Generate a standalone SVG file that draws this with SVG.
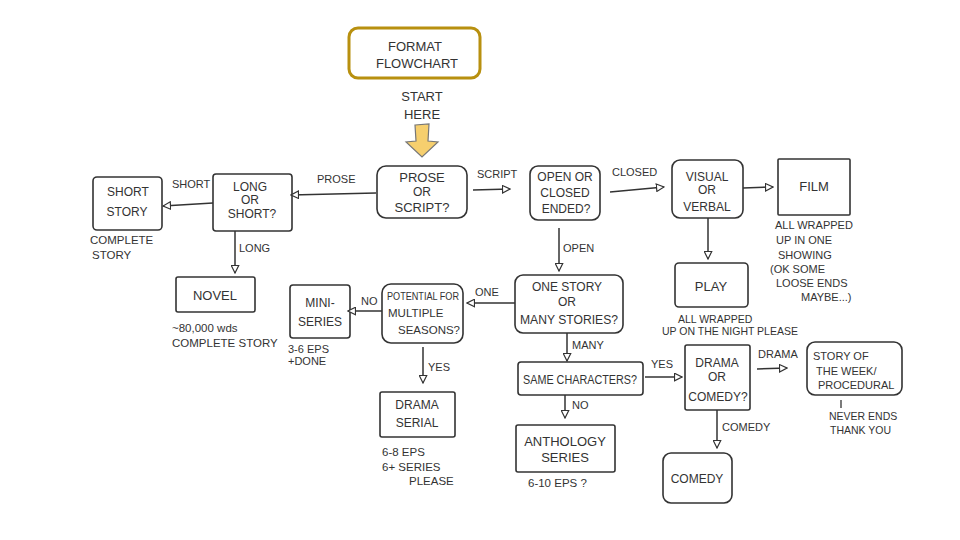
<svg xmlns="http://www.w3.org/2000/svg" width="960" height="540" viewBox="0 0 960 540">
<defs>
<style>
.bg{fill:#ffffff}
.box{fill:#ffffff;stroke:#333;stroke-width:1.6}
.t{font-family:"Liberation Sans",Arial,sans-serif;font-size:13px;fill:#333;text-anchor:middle}
.s{font-size:12px}
.l{font-family:"Liberation Sans",Arial,sans-serif;font-size:11.5px;fill:#333;text-anchor:start}
.lbl{font-family:"Liberation Sans",Arial,sans-serif;font-size:11px;fill:#333;text-anchor:start}
.c{fill:none;stroke:#333;stroke-width:1.5;marker-end:url(#ah)}
</style>
<marker id="ah" viewBox="0 0 12 12" refX="11" refY="6" markerWidth="9" markerHeight="9" markerUnits="userSpaceOnUse" orient="auto">
<path d="M1,1 L11,6 L1,11 Z" fill="#fff" stroke="#333" stroke-width="1.6"/>
</marker>
</defs>
<rect class="bg" x="0" y="0" width="960" height="540"/>

<g id="title">
<rect x="349" y="28" width="131" height="50" rx="9" fill="#fff" stroke="#B8900F" stroke-width="3"/>
<text class="t" x="415" y="51">FORMAT</text>
<text class="t" x="417" y="68">FLOWCHART</text>
</g>
<g id="start">
<text class="t" x="422" y="101">START</text>
<text class="t" x="422" y="119">HERE</text>
<path d="M415,125 L429,124 L428,141 L438,142 L422,157 L406,142 L416,141 Z" fill="#F6CF6E" stroke="#777" stroke-width="1.2"/>
</g>

<g id="prose-script">
<rect class="box" x="377" y="166" width="90" height="52" rx="9"/>
<text class="t" x="422" y="182">PROSE</text>
<text class="t s" x="422" y="196">OR</text>
<text class="t" x="422" y="212">SCRIPT?</text>
</g>
<g id="long-short">
<rect class="box" x="213" y="174" width="79" height="57" rx="3"/>
<text class="t s" x="250" y="191">LONG</text>
<text class="t s" x="250" y="204">OR</text>
<text class="t s" x="252" y="218">SHORT?</text>
</g>
<g id="short-story">
<rect class="box" x="93" y="177" width="69" height="53" rx="4"/>
<text class="t s" x="128" y="196">SHORT</text>
<text class="t s" x="127" y="216">STORY</text>
<text class="l" x="90" y="244">COMPLETE</text>
<text class="l" x="92" y="259">STORY</text>
</g>
<g id="novel">
<rect class="box" x="176" y="277" width="79" height="35" rx="2"/>
<text class="t" x="215" y="300">NOVEL</text>
<text class="l" x="172" y="332">~80,000 wds</text>
<text class="l" x="172" y="347">COMPLETE STORY</text>
</g>
<g id="open-closed">
<rect class="box" x="530" y="166" width="70" height="54" rx="8"/>
<text class="t s" x="565" y="181">OPEN OR</text>
<text class="t s" x="565" y="197">CLOSED</text>
<text class="t s" x="566" y="213">ENDED?</text>
</g>
<g id="visual-verbal">
<rect class="box" x="672" y="160" width="71" height="58" rx="8"/>
<text class="t s" x="707" y="181">VISUAL</text>
<text class="t s" x="707" y="194">OR</text>
<text class="t s" x="707" y="211">VERBAL</text>
</g>
<g id="film">
<rect class="box" x="778" y="159" width="72" height="56" rx="1"/>
<text class="t" x="814" y="191">FILM</text>
<text class="l" x="775" y="229" style="font-size:11px">ALL WRAPPED</text>
<text class="l" x="776" y="244" style="font-size:11px">UP IN ONE</text>
<text class="l" x="778" y="259" style="font-size:11px">SHOWING</text>
<text class="l" x="770" y="273" style="font-size:11px">(OK SOME</text>
<text class="l" x="776" y="287" style="font-size:11px">LOOSE ENDS</text>
<text class="l" x="801" y="301" style="font-size:11px">MAYBE...)</text>
</g>
<g id="play">
<rect class="box" x="675" y="263" width="73" height="44" rx="4"/>
<text class="t" x="711" y="291">PLAY</text>
<text class="l" x="678" y="323" style="font-size:10.5px">ALL WRAPPED</text>
<text class="l" x="662" y="335" style="font-size:10.5px">UP ON THE NIGHT PLEASE</text>
</g>
<g id="one-many">
<rect class="box" x="515" y="275" width="108" height="58" rx="8"/>
<text class="t s" x="567" y="291">ONE STORY</text>
<text class="t s" x="567" y="306">OR</text>
<text class="t s" x="569" y="324" textLength="98" lengthAdjust="spacingAndGlyphs">MANY STORIES?</text>
</g>
<g id="potential">
<rect class="box" x="382" y="284" width="81" height="59" rx="9"/>
<text class="l" x="387" y="300" textLength="72" lengthAdjust="spacingAndGlyphs">POTENTIAL FOR</text>
<text class="l" x="388" y="317">MULTIPLE</text>
<text class="l" x="398" y="334">SEASONS?</text>
</g>
<g id="mini-series">
<rect class="box" x="290" y="285" width="60" height="53" rx="3"/>
<text class="t s" x="320" y="307">MINI-</text>
<text class="t s" x="320" y="326">SERIES</text>
<text class="l" x="288" y="353" style="font-size:11px">3-6 EPS</text>
<text class="l" x="288" y="365" style="font-size:11px">+DONE</text>
</g>
<g id="drama-serial">
<rect class="box" x="380" y="392" width="75" height="45" rx="2"/>
<text class="t s" x="417" y="409">DRAMA</text>
<text class="t s" x="417" y="427">SERIAL</text>
<text class="l" x="382" y="456">6-8 EPS</text>
<text class="l" x="382" y="471">6+ SERIES</text>
<text class="l" x="409" y="485">PLEASE</text>
</g>
<g id="same-characters">
<rect class="box" x="518" y="362" width="125" height="33" rx="3"/>
<text class="t s" x="580" y="384" textLength="114" lengthAdjust="spacingAndGlyphs">SAME CHARACTERS?</text>
</g>
<g id="anthology">
<rect class="box" x="516" y="425" width="99" height="47" rx="2"/>
<text class="t" x="565" y="446">ANTHOLOGY</text>
<text class="t" x="565" y="462">SERIES</text>
<text class="l" x="528" y="487">6-10 EPS ?</text>
</g>
<g id="drama-comedy">
<rect class="box" x="685" y="345" width="65" height="65" rx="2"/>
<text class="t s" x="717" y="367">DRAMA</text>
<text class="t s" x="717" y="381">OR</text>
<text class="t s" x="718" y="401">COMEDY?</text>
</g>
<g id="story-week">
<rect class="box" x="807" y="342" width="95" height="53" rx="8"/>
<text class="l" x="813" y="360" style="font-size:11px">STORY OF</text>
<text class="l" x="816" y="375" style="font-size:11px">THE WEEK/</text>
<text class="l" x="818" y="389" style="font-size:11px">PROCEDURAL</text>
<line x1="841" y1="400" x2="841" y2="408" stroke="#333" stroke-width="1.3"/>
<text class="l" x="829" y="420" style="font-size:10.5px">NEVER ENDS</text>
<text class="l" x="830" y="434" style="font-size:10.5px">THANK YOU</text>
</g>
<g id="comedy">
<rect class="box" x="663" y="453" width="69" height="50" rx="8"/>
<text class="t s" x="697" y="483">COMEDY</text>
</g>

<g id="connectors">
<path class="c" d="M376,193 L291,195"/>
<text class="lbl" x="317" y="183">PROSE</text>
<path class="c" d="M213,203 L163,206"/>
<text class="lbl" x="172" y="188">SHORT</text>
<path class="c" d="M235,231 L235,273"/>
<text class="lbl" x="239" y="252">LONG</text>
<path class="c" d="M473,190 L510,189"/>
<text class="lbl" x="477" y="178">SCRIPT</text>
<path class="c" d="M610,192 L664,187"/>
<text class="lbl" x="612" y="176">CLOSED</text>
<path class="c" d="M743,188 L773,187"/>
<path class="c" d="M708,218 L708,259"/>
<path class="c" d="M559,228 L559,271"/>
<text class="lbl" x="563" y="252">OPEN</text>
<path class="c" d="M515,303 L467,303"/>
<text class="lbl" x="475" y="296">ONE</text>
<path class="c" d="M382,311 L348,311"/>
<text class="lbl" x="361" y="305">NO</text>
<path class="c" d="M423,347 L423,383"/>
<text class="lbl" x="428" y="371">YES</text>
<path class="c" d="M567,333 L567,361"/>
<text class="lbl" x="572" y="349">MANY</text>
<path class="c" d="M565,395 L565,418"/>
<text class="lbl" x="572" y="409">NO</text>
<path class="c" d="M645,377 L682,377"/>
<text class="lbl" x="651" y="368">YES</text>
<path class="c" d="M757,369 L787,368"/>
<text class="lbl" x="758" y="358">DRAMA</text>
<path class="c" d="M717,410 L717,448"/>
<text class="lbl" x="722" y="431">COMEDY</text>
</g>
</svg>
